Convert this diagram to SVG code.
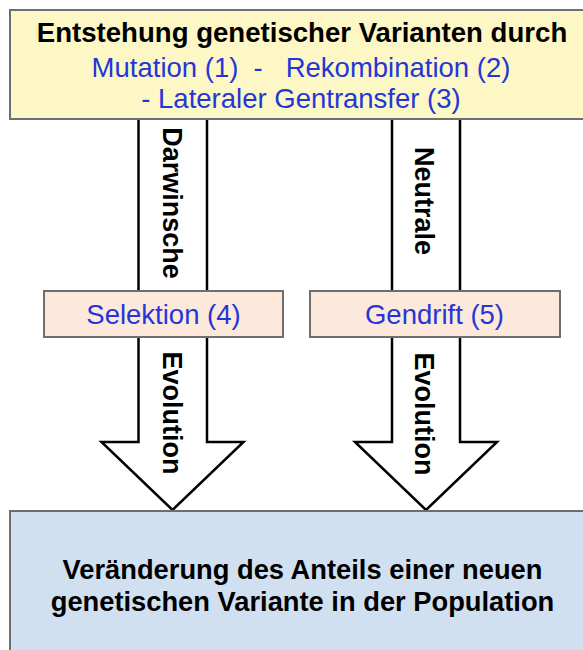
<svg xmlns="http://www.w3.org/2000/svg" width="583" height="650" viewBox="0 0 583 650">
<style>
.box{stroke:#6e6e6e;stroke-width:2}
.arrow{fill:#ffffff;stroke:#000000;stroke-width:2.5;stroke-linejoin:miter}
.t{font-family:"Liberation Sans",Arial,sans-serif}
.b{font-weight:bold;fill:#000000}
.blue{fill:#2536d6}
.v{font-size:27px}
</style>
<rect width="583" height="650" fill="#ffffff"/>
<g id="connectors">
  <polygon id="arrow-darwin" class="arrow" points="138.5,118 207,118 207,442 243.5,442 172.5,510 101.5,442 138.5,442"/>
  <polygon id="arrow-neutral" class="arrow" points="392,118 460,118 460,442 497,442 426,510 355,442 392,442"/>
  <text class="t b v" text-anchor="middle" transform="translate(163,203) rotate(90)">Darwinsche</text>
  <text class="t b v" text-anchor="middle" transform="translate(415,201) rotate(90)">Neutrale</text>
  <text class="t b v" text-anchor="middle" transform="translate(163,413) rotate(90)">Evolution</text>
  <text class="t b v" text-anchor="middle" transform="translate(415,414) rotate(90)">Evolution</text>
</g>
<g id="top">
  <rect class="box" x="10" y="10" width="590" height="109" fill="#fdf7c6"/>
  <text class="t b" font-size="27.6" x="302" y="42" text-anchor="middle">Entstehung genetischer Varianten durch</text>
  <text class="t blue" font-size="27.5" x="301" y="77" text-anchor="middle" xml:space="preserve">Mutation (1)  -   Rekombination (2)</text>
  <text class="t blue" font-size="27.5" x="301" y="108" text-anchor="middle">- Lateraler Gentransfer (3)</text>
</g>
<g id="selektion">
  <rect class="box" x="44" y="291" width="239" height="46" fill="#fde9dc"/>
  <text class="t blue" font-size="27.5" x="163.5" y="324" text-anchor="middle">Selektion (4)</text>
</g>
<g id="gendrift">
  <rect class="box" x="310" y="291" width="250" height="46" fill="#fde9dc"/>
  <text class="t blue" font-size="27.5" x="434.5" y="324" text-anchor="middle">Gendrift (5)</text>
</g>
<g id="bottom">
  <rect class="box" x="10" y="511" width="590" height="150" fill="#d0e0f1"/>
  <text class="t b" font-size="27.3" x="302.5" y="579" text-anchor="middle">Veränderung des Anteils einer neuen</text>
  <text class="t b" font-size="27.3" x="302.5" y="611" text-anchor="middle">genetischen Variante in der Population</text>
</g>
</svg>
